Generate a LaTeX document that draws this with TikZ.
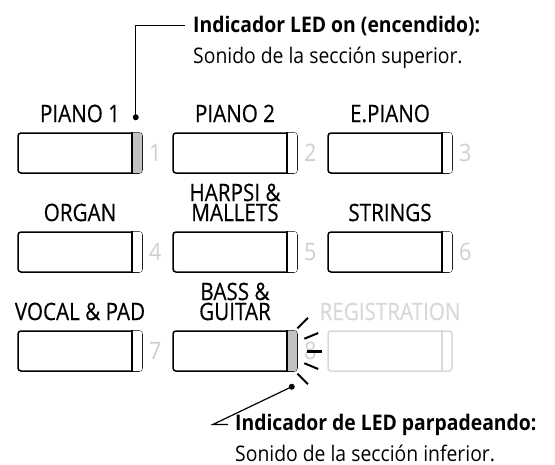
\documentclass[tikz,border=0pt]{standalone}
\usepackage{fontspec}
\setmainfont{Open Sans}[FakeStretch=0.9]
\newfontfamily\lblfont{Open Sans}[FakeStretch=0.86, FakeBold=0.4]
\usetikzlibrary{calc,positioning}

\definecolor{ledgray}{HTML}{C2C2C2}
\definecolor{numgray}{HTML}{CFCFCF}
\definecolor{offgray}{HTML}{D8D8D8}

\begin{document}
\begin{tikzpicture}[x=1pt, y=-1pt,
    btn/.style={draw, line width=1.5pt, rounded corners=3pt, minimum width=124pt,
                minimum height=40pt, inner sep=0pt},
    btnlabel/.style={font=\lblfont\fontsize{24}{20}\selectfont, anchor=south, inner sep=0pt,
                     text depth=0pt, align=center},
    btnnum/.style={font=\fontsize{24}{24}\selectfont, text=numgray, inner sep=0pt},
    ray/.style={line width=2pt},
    note/.style={anchor=base west, inner sep=0pt, font=\fontsize{21.5}{24}\selectfont},
    notetitle/.style={note, font=\fontsize{21.5}{24}\selectfont\bfseries},
]
\useasboundingbox (0,0) rectangle (555,464);

% Buttons with labels, numbers and LED strips
\foreach \name/\cx/\cy/\lbl/\num/\led in {
    b1/80/153/{PIANO 1}/1/ledgray, b2/235/153/{PIANO 2}/2/white, b3/390/153/{E.PIANO}/3/white,
    b4/80/252/{ORGAN}/4/white, b5/235/252/{HARPSI \&\\MALLETS}/5/white, b6/390/252/{STRINGS}/6/white,
    b7/80/351/{VOCAL \& PAD}/7/white, b8/235/351/{BASS \&\\GUITAR}/8/ledgray} {
    \node[btn] (\name) at (\cx,\cy) {};
    \node[btnlabel] (\name-lbl) at ($(\name.north)+(0,-10)$) {\lbl};
    \node[btnnum] (\name-num) at ($(\name.east)+(12.5,0)$) {\num};
    \fill[\led, rounded corners=2pt] ($(\name.north east)+(-11,0.75)$) rectangle ($(\name.south east)+(-0.75,-0.75)$);
    \draw[line width=1.5pt] ($(\name.north east)+(-11,0)$) -- ($(\name.south east)+(-11,0)$);
}

% Registration (inactive)
\node[btn, draw=offgray] (b9) at (390,351) {};
\node[btnlabel, text=offgray] (b9-lbl) at ($(b9.north)+(0,-10)$) {REGISTRATION};
\draw[line width=1.5pt, offgray] ($(b9.north east)+(-11,0)$) -- ($(b9.south east)+(-11,0)$);

% Blinking rays
\coordinate (blink) at ($(b8.east)+(-23,0)$);
\foreach \a in {-45,-22.5,22.5,45} {
    \draw[ray] ($(blink)+(\a:32pt)$) -- ($(blink)+(\a:47pt)$);
}
\draw[ray, line width=3pt] ($(blink)+(0:32pt)$) -- ($(blink)+(0:47pt)$);

% Callout: LED on
\coordinate (ledA) at ($(b1.north east)+(-7,-15)$);
\node[notetitle] (ledon) at (193,32) {Indicador LED on (encendido):};
\node[note] (ledonsub) at (193,63) {Sonido de la sección superior.};
\fill (ledA) circle (3pt);
\draw[line width=1.2pt, shorten >=8pt] (ledA) |- (ledon.west);

% Callout: LED blinking
\coordinate (ledB) at ($(b8.south east)+(-6,15)$);
\node[notetitle] (blinkon) at (235,430) {Indicador de LED parpadeando:};
\node[note] (blinkonsub) at (235,461) {Sonido de la sección inferior.};
\coordinate (kink) at ($(blinkon.west)+(-22,0)$);
\fill (ledB) circle (3pt);
\draw[line width=1.2pt] (ledB) -- (kink) -- ([xshift=-7pt]blinkon.west);
\end{tikzpicture}
\end{document}
